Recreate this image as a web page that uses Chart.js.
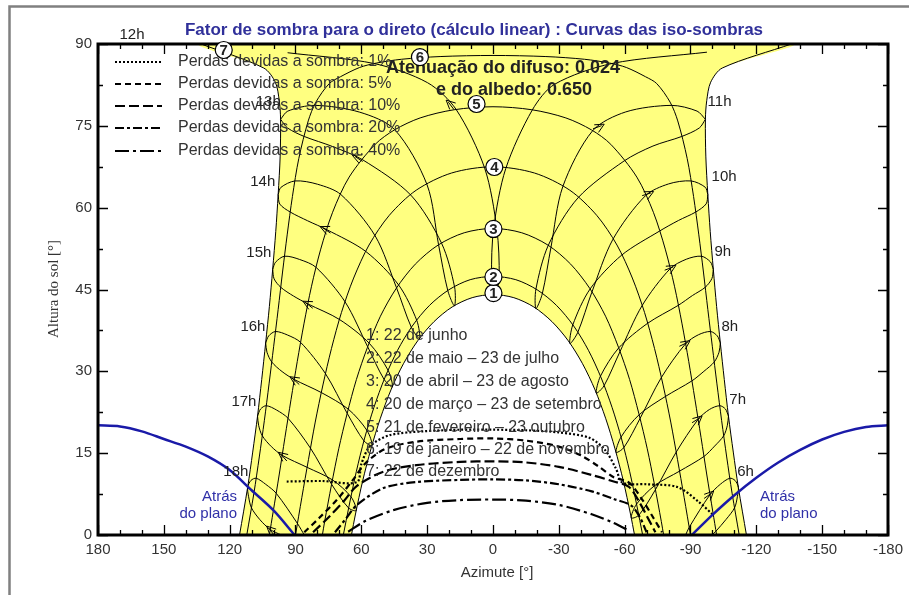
<!DOCTYPE html>
<html><head><meta charset="utf-8">
<script src="https://cdn.jsdelivr.net/npm/chart.js@4.4.1/dist/chart.umd.min.js"></script>
<style>html,body{margin:0;padding:0;background:#fff}#wrap{position:relative;width:909px;height:595px}</style>
</head><body><div id="wrap"><canvas id="c" width="909" height="595"></canvas></div>
<script>
// ---------- tick labels ----------
const xTicks = [180,150,120,90,60,30,0,-30,-60,-90,-120,-150,-180];
const yTicks = [0,15,30,45,60,75,90];

// ---------- date curves [azimuth, altitude] ----------
const dateJun = [[64.5,0],[62.65,3.85],[59.4,9.9],[55.6,15.8],[51.4,21.3],[46.5,26.6],[40.8,31.4],[34.3,35.6],[26.9,39.1],[18.6,41.8],[9.5,43.5],[0,44.07],[-9.5,43.5],[-18.6,41.8],[-26.9,39.1],[-34.3,35.6],[-40.8,31.4],[-46.5,26.6],[-51.4,21.3],[-55.6,15.8],[-59.4,9.9],[-62.65,3.85],[-64.5,0]];
const dateMay = [[68.2,0],[65.6,5.3],[62.3,11.6],[58.6,17.6],[54.25,23.4],[49.3,28.8],[43.5,33.85],[36.8,38.3],[28.9,42.1],[20.1,44.95],[10.4,46.8],[0,47.4],[-10.4,46.8],[-20.1,44.95],[-28.9,42.1],[-36.8,38.3],[-43.5,33.85],[-49.3,28.8],[-54.25,23.4],[-58.6,17.6],[-62.3,11.6],[-65.6,5.3],[-68.2,0]];
const dateApr = [[77.75,0],[76.7,2.5],[73.6,9.2],[70.3,15.8],[66.5,22.2],[62.25,28.5],[57.2,34.4],[51.3,40.1],[44.1,45.2],[35.4,49.65],[25.0,53.15],[13.1,55.4],[0,56.2],[-13.1,55.4],[-25.0,53.15],[-35.4,49.65],[-44.1,45.2],[-51.3,40.1],[-57.2,34.4],[-62.25,28.5],[-66.5,22.2],[-70.3,15.8],[-73.6,9.2],[-76.7,2.5],[-77.75,0]];
const dateMar = [[90,0],[87.1,6.9],[84.1,13.8],[81.0,20.7],[77.5,27.5],[73.6,34.2],[69.05,40.8],[63.5,47.1],[56.5,53.15],[47.25,58.6],[35.0,63.2],[18.9,66.35],[0,67.5],[-18.9,66.35],[-35.0,63.2],[-47.25,58.6],[-56.5,53.15],[-63.5,47.1],[-69.05,40.8],[-73.6,34.2],[-77.5,27.5],[-81.0,20.7],[-84.1,13.8],[-87.1,6.9],[-90,0]];
const dateFeb = [[101.9,0],[100.2,4.2],[97.45,11.0],[94.8,17.9],[92.05,24.8],[89.2,31.8],[86.15,38.7],[82.7,45.6],[78.5,52.4],[73.1,59.15],[65.55,65.6],[53.7,71.6],[44.9,74.25],[33.2,76.45],[17.7,77.95],[0,78.5],[-17.7,77.95],[-33.2,76.45],[-44.9,74.25],[-53.7,71.6],[-65.55,65.6],[-73.1,59.15],[-78.5,52.4],[-82.7,45.6],[-86.15,38.7],[-89.2,31.8],[-92.05,24.8],[-94.8,17.9],[-97.45,11.0],[-100.2,4.2],[-101.9,0]];
const dateJan = [[112.2,0],[108.95,7.67],[106.5,14.3],[104.2,20.95],[102.05,27.7],[99.97,34.5],[97.9,41.35],[95.9,48.2],[93.75,55.15],[91.4,62.05],[88.5,69.0],[84.2,75.9],[80.7,79.35],[74.6,82.75],[69.5,84.0],[60.75,85.7],[53.2,86.5],[41.7,87.2],[24.1,87.7],[0,87.9],[-24.1,87.7],[-41.7,87.2],[-53.2,86.5],[-60.75,85.7],[-69.5,84.0],[-74.6,82.75],[-80.7,79.35],[-84.2,75.9],[-88.5,69.0],[-91.4,62.05],[-93.75,55.15],[-95.9,48.2],[-97.9,41.35],[-99.97,34.5],[-102.05,27.7],[-104.2,20.95],[-106.5,14.3],[-108.95,7.67],[-112.2,0]];
const dateDecLeft = [[115.5,0],[111.8,8.75],[109.5,15.2],[107.3,21.8],[105.4,28.5],[103.6,35.2],[101.9,41.9],[100.4,48.7],[99.0,55.6],[97.9,62.4],[97.0,69.3],[96.8,76.2],[97.4,79.6],[99.2,83.0],[104.5,85.6],[133,90]];
const dateDecRight = [[-115.5,0],[-111.8,8.75],[-109.5,15.2],[-107.3,21.8],[-105.4,28.5],[-103.6,35.2],[-101.9,41.9],[-100.4,48.7],[-99.0,55.6],[-97.9,62.4],[-97.0,69.3],[-96.8,76.2],[-97.4,79.6],[-99.2,83.0],[-104.5,85.6],[-136,90]];

// ---------- hour lines (legal time) ----------
const h06 = [[-87.8,0],[-89.4,1.4],[-98.9,7.4],[-103.6,9.3],[-107.9,10.4],[-110.3,10.0],[-111.8,8.75],[-111.4,7.1],[-110.1,5.0],[-106.2,2.85],[-101.6,0.7],[-99.8,0]];
const h07 = [[-107.3,21.8],[-106.8,20.1],[-105.15,18.2],[-101.0,16.3],[-96.15,14.4],[-85.0,11.7],[-73.65,9.05],[-65.4,5.65],[-63.0,3.15],[-66.4,3.6],[-74.0,8.3],[-83.5,15.2],[-93.5,21.2],[-98.6,23.0],[-103.3,23.7],[-105.9,23.1],[-107.3,21.8]];
const h08 = [[-103.6,35.2],[-103.0,33.5],[-100.8,31.7],[-96.1,30.0],[-90.65,28.25],[-78.6,25.4],[-66.6,22.05],[-58.35,17.95],[-56.05,15.15],[-59.6,16.0],[-67.0,21.35],[-76.7,28.85],[-87.75,35.05],[-93.6,36.7],[-99.1,37.3],[-102.2,36.5],[-103.6,35.2]];
const h09 = [[-100.4,48.7],[-99.75,47.0],[-96.7,45.4],[-90.9,43.9],[-84.45,42.1],[-70.45,38.8],[-57.3,34.3],[-48.95,29.1],[-47.05,26.0],[-50.6,27.35],[-57.85,33.6],[-67.95,42.05],[-80.7,48.8],[-88.1,50.55],[-95.0,51.1],[-99.1,50.05],[-100.4,48.7]];
const h10 = [[-97.9,62.4],[-97.15,60.7],[-92.4,59.2],[-84.5,57.65],[-75.85,55.7],[-58.65,51.3],[-44.25,45.1],[-36.35,38.5],[-35.05,35.1],[-38.6,37.1],[-45.05,44.5],[-54.65,54.2],[-69.5,62.2],[-80.0,64.35],[-90.2,64.9],[-96.7,63.75],[-97.9,62.4]];
const h11 = [[-96.8,76.2],[-94.0,74.6],[-86.0,73.05],[-72.9,71.3],[-59.7,68.55],[-38.75,61.8],[-25.2,53.1],[-19.55,45.05],[-19.55,41.5],[-22.45,44.2],[-26.4,52.7],[-31.8,63.85],[-45.4,74.1],[-60.5,77.55],[-81.3,78.75],[-93.0,77.7],[-96.8,76.2]];
const h12 = [[-97.5,88.5],[-53.95,86.4],[-28,82.6],[-17.9,77.9],[-5.8,67.15],[-0.3,56.2],[0.6,47.4],[-1.1,44.0],[-2.8,47.25],[-1.75,56.1],[3.8,67.25],[16.8,78.0],[29.8,82.9],[53.95,86.4],[93.6,88.4]];
const h13 = [[96.8,76.2],[93.5,77.7],[81.3,78.75],[60.7,77.5],[44.8,74.3],[30.05,64.2],[24.8,53.2],[20.6,44.8],[17.55,42.0],[17.5,45.45],[23.4,53.45],[37.45,62.3],[59.3,68.75],[73.05,71.2],[86.0,73.05],[93.6,74.6],[96.8,76.2]];
const h14 = [[97.9,62.4],[96.7,63.7],[90.2,64.9],[80.0,64.3],[69.3,62.4],[53.65,54.8],[43.95,45.3],[37.2,38.05],[33.45,36.0],[34.7,39.3],[42.95,45.8],[57.9,51.95],[75.65,55.95],[84.5,57.6],[92.4,59.2],[97.15,60.65],[97.9,62.4]];
const h15 = [[100.4,48.7],[99.1,50.0],[95.0,51.1],[88.1,50.5],[80.6,49.05],[67.35,42.7],[57.1,34.5],[49.6,28.5],[45.85,27.15],[47.75,30.15],[56.4,35.15],[69.95,39.5],[84.3,42.35],[90.9,43.8],[96.7,45.4],[99.75,46.95],[100.4,48.7]];
const h16 = [[103.6,35.2],[102.2,36.5],[99.1,37.3],[93.6,36.65],[87.65,35.3],[76.3,29.55],[66.45,22.3],[58.8,17.25],[55.1,16.4],[57.4,19.15],[65.9,23.05],[78.2,26.1],[90.55,28.5],[96.1,29.95],[100.8,31.7],[103.0,33.5],[103.6,35.2]];
const h17 = [[107.3,21.8],[105.9,23.1],[103.3,23.7],[98.6,22.9],[93.4,21.4],[83.15,15.9],[73.55,9.3],[65.8,4.95],[62.3,4.5],[64.7,7.0],[73.15,10.1],[84.7,12.4],[96.05,14.6],[101.0,16.2],[105.15,18.2],[106.8,20.1],[107.3,21.8]];
const h18 = [[96.5,0],[101.5,1.0],[106.2,2.8],[110.1,5.0],[111.4,7.1],[111.8,8.75],[110.3,10.0],[107.9,10.4],[103.6,9.3],[98.8,7.65],[89.1,2.1],[86,0]];

// ---------- iso-shading curves ----------
const iso1  = [[94,9.8],[78,9.9],[62,9.7],[60,13],[56,16.3],[47,18.3],[32,19.0],[15,19.3],[0,19.3],[-15,19.2],[-30,18.8],[-44,17.8],[-51,15.6],[-56,12.2],[-59,9.6],[-70,9.3],[-84,8.8],[-94,6.0],[-100,3.8]];
const iso5  = [[86,0.5],[79,3.2],[71,6.5],[64,10],[58,13.2],[49,15.8],[35,17.1],[15,17.6],[0,17.7],[-15,17.3],[-30,16.2],[-40,14.6],[-48,12.6],[-55,10.6],[-62,9.6],[-68,6.5],[-73,3.2],[-77,0.5]];
const iso10 = [[82,0.5],[75,3.2],[68,6.2],[62,9],[50,11.6],[35,12.8],[15,13.4],[0,13.5],[-15,13.3],[-30,12.5],[-45,11.0],[-55,9.8],[-62,8.8],[-67,5.8],[-71,2.8],[-74,0.5]];
const iso20 = [[72,0.5],[67,3.0],[62,5.5],[50,8.6],[35,9.7],[15,10.1],[0,10.2],[-15,10.0],[-30,9.3],[-45,8.0],[-55,6.6],[-63,5.4],[-67,3.2],[-70,0.5]];
const iso40 = [[66,0.6],[58,2.6],[45,4.6],[30,5.9],[15,6.4],[0,6.5],[-15,6.3],[-30,5.5],[-45,3.8],[-55,2.2],[-62,0.8]];

// ---------- "behind the plane" horizon ----------
const planeLeft  = [[180,20.1],[170,19.9],[160,19.0],[150,17.6],[140,16.2],[130,14.4],[120,11.9],[110,8.2],[100,4.5],[90.4,0]];
const planeRight = [[-90.6,0],[-100,3.7],[-110,7.3],[-120,10.5],[-130,13.3],[-140,15.6],[-150,17.5],[-160,18.9],[-170,19.8],[-180,20.1]];

// ---------- labels ----------
const isoLabels = ['Perdas devidas a sombra: 1%','Perdas devidas a sombra: 5%','Perdas devidas a sombra: 10%','Perdas devidas a sombra: 20%','Perdas devidas a sombra: 40%'];
const dateLabels = ['1: 22 de junho','2: 22 de maio \u2013 23 de julho','3: 20 de abril \u2013 23 de agosto','4: 20 de mar\u00e7o \u2013 23 de setembro','5: 21 de fevereiro \u2013 23 outubro','6: 19 de janeiro \u2013 22 de novembro','7: 22 de dezembro'];
const hourLabelsLeft  = [['12h',158.8,91.7],['13h',96.7,79.4],['14h',99.2,64.7],['15h',101,51.7],['16h',103.7,38.1],['17h',107.8,24.4],['18h',111.5,11.5]];
const hourLabelsRight = [['11h',-97.8,79.4],['10h',-99.6,65.6],['9h',-100.9,51.9],['8h',-104.1,38.1],['7h',-107.7,24.7],['6h',-111.3,11.5]];
const circleMarks = [['1',-0.2,44.35],['2',-0.2,47.3],['3',-0.2,56.1],['4',-0.6,67.45],['5',7.5,79.0],['6',33.3,87.6],['7',122.7,88.9]];

// ---------- build datasets ----------
const xy = a => a.map(p => ({x:p[0], y:p[1]}));
const sunRegion = [...dateDecLeft, ...dateDecRight.slice().reverse()];
const SANS = "'Liberation Sans', Arial, sans-serif";
const datasets = [];
datasets.push({data: xy(sunRegion), fill:'shape', backgroundColor:'#ffff80', borderWidth:0, borderColor:'rgba(0,0,0,0)', tension:0.3, order:20});
datasets.push({data: xy(dateJun), fill:'shape', backgroundColor:'#ffffff', borderWidth:0, borderColor:'rgba(0,0,0,0)', tension:0.3, order:19});
[dateJun,dateMay,dateApr,dateMar,dateFeb,dateJan,dateDecLeft,dateDecRight].forEach(a =>
  datasets.push({data: xy(a), borderColor:'#000', borderWidth:1, tension:0.3, order:6}));
const hourLines = [h06,h07,h08,h09,h10,h11,h12,h13,h14,h15,h16,h17,h18];
hourLines.forEach(a => datasets.push({data: xy(a), borderColor:'#000', borderWidth:1, tension:0.3, order:5}));
const isoStyles = [[iso1,[2,2]],[iso5,[6,4]],[iso10,[10,4]],[iso20,[9,3,3,3]],[iso40,[14,4,3,4]]];
isoStyles.forEach(([a,d]) => datasets.push({data: xy(a), borderColor:'#000', borderWidth:2.2, borderDash:d, tension:0.3, order:3}));
[planeLeft, planeRight].forEach(a => datasets.push({data: xy(a), borderColor:'#1a1aa8', borderWidth:2.5, tension:0.3, order:2}));
datasets.forEach(d => { d.showLine = true; d.pointRadius = 0; if (d.fill === undefined) d.fill = false; });
// index of the 23 October point on each hour line (direction arrows drawn there)
const arrowAt = [[h06,2],[h07,12],[h08,12],[h09,12],[h10,12],[h11,12],[h12,11],[h13,12],[h14,12],[h15,12],[h16,12],[h17,12],[h18,1]];

// ---------- drawing plugins ----------
function T(ctx, s, x, y, font, color, align, base) {
  ctx.font = font; ctx.fillStyle = color; ctx.textAlign = align || 'left'; ctx.textBaseline = base || 'middle';
  ctx.fillText(s, x, y);
}
const framePlugin = {
  id: 'framePlugin',
  beforeDraw(chart) {
    const ctx = chart.ctx;
    ctx.save(); ctx.fillStyle = '#fff'; ctx.fillRect(0,0,chart.width,chart.height);
    ctx.strokeStyle = '#808080'; ctx.lineWidth = 2.5;
    ctx.beginPath(); ctx.moveTo(9.5, 595); ctx.lineTo(9.5, 6.5); ctx.lineTo(909, 6.5); ctx.stroke();
    ctx.restore();
  },
  afterDatasetsDraw(chart) {
    const {ctx, chartArea: a, scales: {x, y}} = chart;
    ctx.save();
    // direction arrows on hour lines
    ctx.strokeStyle = '#000'; ctx.lineWidth = 1;
    arrowAt.forEach(([arr, i]) => {
      const p0 = arr[i], p1 = arr[i + 1];
      const x0 = x.getPixelForValue(p0[0]), y0 = y.getPixelForValue(p0[1]);
      const x1 = x.getPixelForValue(p1[0]), y1 = y.getPixelForValue(p1[1]);
      const ang = Math.atan2(y1 - y0, x1 - x0);
      const tx = x0 + (x1 - x0) * 0.35, ty = y0 + (y1 - y0) * 0.35;
      ctx.beginPath();
      [0.45, -0.45].forEach(s => {
        ctx.moveTo(tx, ty);
        ctx.lineTo(tx - 10 * Math.cos(ang + s), ty - 10 * Math.sin(ang + s));
      });
      ctx.moveTo(tx - 3 * Math.cos(ang), ty - 3 * Math.sin(ang));
      ctx.lineTo(tx - 12 * Math.cos(ang) + 1.5 * Math.sin(ang), ty - 12 * Math.sin(ang) - 1.5 * Math.cos(ang));
      ctx.stroke();
    });

    ctx.strokeStyle = '#000'; ctx.lineWidth = 1.3;
    ctx.beginPath();
    for (let v = -180; v <= 180; v += 10) {
      const px = Math.round(x.getPixelForValue(v)) + 0.5;
      const len = (v % 30 === 0) ? 10 : 5;
      ctx.moveTo(px, a.bottom); ctx.lineTo(px, a.bottom - len);
      ctx.moveTo(px, a.top); ctx.lineTo(px, a.top + len);
    }
    for (let v = 0; v <= 90; v += 7.5) {
      const py = Math.round(y.getPixelForValue(v)) + 0.5;
      const len = (v % 15 === 0) ? 10 : 5;
      ctx.moveTo(a.left, py); ctx.lineTo(a.left + len, py);
      ctx.moveTo(a.right, py); ctx.lineTo(a.right - len, py);
    }
    ctx.stroke();
    ctx.lineWidth = 3; ctx.strokeRect(a.left, a.top, a.right - a.left, a.bottom - a.top);

    // title and axis titles
    T(ctx, 'Fator de sombra para o direto (c\u00e1lculo linear) : Curvas das iso-sombras', 474, 30, 'bold 17px ' + SANS, '#30309a', 'center');
    T(ctx, 'Azimute [\u00b0]', 497, 573, '15px ' + SANS, '#333', 'center');
    ctx.save(); ctx.translate(54, 289); ctx.rotate(-Math.PI/2);
    T(ctx, 'Altura do sol [\u00b0]', 0, 0, '15px "Liberation Serif", "Times New Roman", serif', '#333', 'center');
    ctx.restore();

    // iso legend
    const rows = [62, 84, 106, 128, 151];
    ctx.lineWidth = 2; ctx.strokeStyle = '#000';
    isoStyles.forEach(([a2, d], i) => {
      ctx.setLineDash(d); ctx.beginPath(); ctx.moveTo(115, rows[i]); ctx.lineTo(162, rows[i]); ctx.stroke();
      ctx.setLineDash([]);
      T(ctx, isoLabels[i], 178, rows[i], '16px ' + SANS, '#333');
    });

    // attenuation text
    T(ctx, 'Atenua\u00e7\u00e3o do difuso: 0.024', 503, 68, 'bold 18px ' + SANS, '#222', 'center');
    T(ctx, 'e do albedo: 0.650', 514, 90, 'bold 18px ' + SANS, '#222', 'center');

    // date legend
    const drows = [336, 359, 382, 405, 428, 450, 472];
    dateLabels.forEach((s, i) => T(ctx, s, 366, drows[i], '16px ' + SANS, '#333'));

    // hour labels
    hourLabelsLeft.forEach(([s, az, al]) => T(ctx, s, x.getPixelForValue(az), y.getPixelForValue(al), '15px ' + SANS, '#222', 'right'));
    hourLabelsRight.forEach(([s, az, al]) => T(ctx, s, x.getPixelForValue(az), y.getPixelForValue(al), '15px ' + SANS, '#222', 'left'));

    // behind the plane
    T(ctx, 'Atr\u00e1s', 237, 497, '15px ' + SANS, '#3030a8', 'right');
    T(ctx, 'do plano', 237, 514, '15px ' + SANS, '#3030a8', 'right');
    T(ctx, 'Atr\u00e1s', 760, 497, '15px ' + SANS, '#3030a8', 'left');
    T(ctx, 'do plano', 760, 514, '15px ' + SANS, '#3030a8', 'left');

    // numbered circles
    circleMarks.forEach(([s, az, al]) => {
      const px = x.getPixelForValue(az), py = y.getPixelForValue(al);
      ctx.beginPath(); ctx.arc(px, py, 8.5, 0, Math.PI*2);
      ctx.fillStyle = '#fff'; ctx.fill(); ctx.lineWidth = 1.2; ctx.strokeStyle = '#000'; ctx.stroke();
      T(ctx, s, px, py + 1, 'bold 15px ' + SANS, '#222', 'center');
    });
    ctx.restore();
  }
};

new Chart(document.getElementById('c'), {
  type: 'scatter',
  data: { datasets },
  options: {
    responsive: false, devicePixelRatio: 1, animation: false, events: [],
    layout: { padding: { top: 44, right: 14, left: 0, bottom: 0 } },
    plugins: { legend: { display: false }, tooltip: { enabled: false }, title: { display: false } },
    scales: {
      x: {
        type: 'linear', min: -180, max: 180, reverse: true,
        afterFit(s) { s.height = 60; },
        afterBuildTicks(s) { s.ticks = xTicks.map(v => ({ value: v })); },
        ticks: { padding: 6, color: '#333', font: { size: 15, family: SANS }, callback: v => String(v), maxRotation: 0, autoSkip: false },
        grid: { display: false, drawTicks: false }, border: { display: false }
      },
      y: {
        type: 'linear', min: 0, max: 90,
        afterFit(s) { s.width = 98; },
        afterBuildTicks(s) { s.ticks = yTicks.map(v => ({ value: v })); },
        ticks: { padding: 6, color: '#333', font: { size: 15, family: SANS }, callback: v => String(v) },
        grid: { display: false, drawTicks: false }, border: { display: false }
      }
    }
  },
  plugins: [framePlugin]
});
</script></body></html>
